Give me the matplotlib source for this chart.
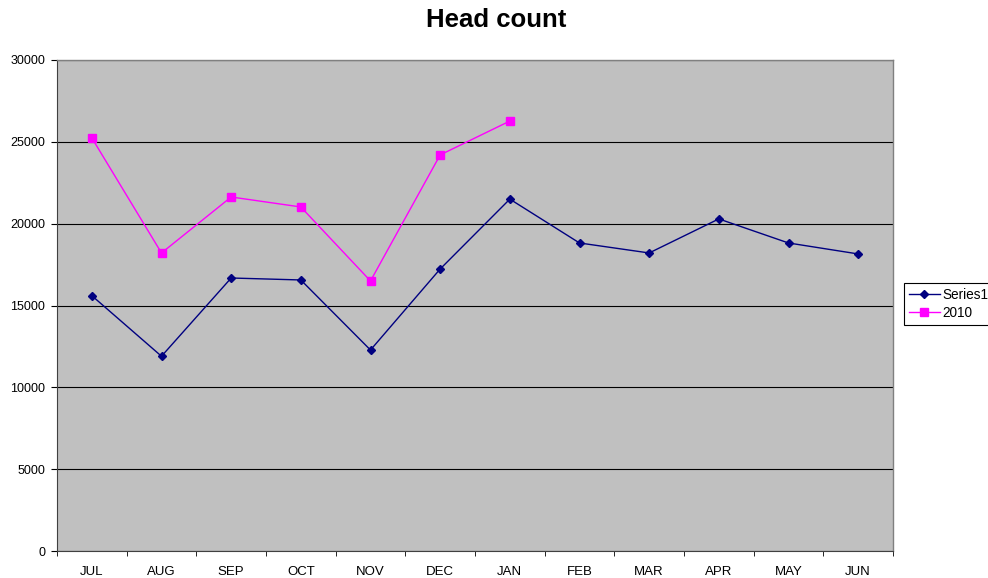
import matplotlib
matplotlib.use("Agg")
import matplotlib.pyplot as plt
import numpy as np

plt.rcParams['font.family'] = ['Liberation Sans', 'DejaVu Sans']

months = ["JUL", "AUG", "SEP", "OCT", "NOV", "DEC", "JAN", "FEB", "MAR", "APR", "MAY", "JUN"]
series1 = [15600, 11900, 16680, 16560, 12280, 17230, 21500, 18820, 18210, 20290, 18820, 18150]
series2010 = [25240, 18210, 21630, 21020, 16500, 24200, 26270]
yticks = [0, 5000, 10000, 15000, 20000, 25000, 30000]

fig = plt.figure(figsize=(9.88, 5.78), dpi=100)
ax = fig.add_axes([57/988, 27/578, (893-57)/988, (551-60)/578])
ax.set_facecolor('#C0C0C0')

x = np.arange(len(months))
ax.plot(x, series1, color='#000080', marker='D', markersize=4.5, linewidth=1, label='Series1')
ax.plot(np.arange(len(series2010)), series2010, color='#FF00FF', marker='s', markersize=6, linewidth=1, label='2010')

ax.set_xlim(-0.5, len(months) - 0.5)
ax.set_ylim(0, 30000)
ax.set_yticks(yticks)
ax.set_yticklabels([str(v) for v in yticks], fontsize=9)
ax.yaxis.grid(True, color='black', linewidth=0.8)
ax.set_axisbelow(True)

ax.set_xticks(x)
ax.set_xticklabels(months, fontsize=9.5)
ax.tick_params(axis='x', length=0, pad=11)
ax.set_xticks(np.arange(len(months) + 1) - 0.5, minor=True)
ax.tick_params(axis='x', which='minor', length=3.5, direction='out', color='black')
ax.tick_params(axis='y', length=4.5, direction='out', color='black', pad=4)

for side in ['top', 'right']:
    ax.spines[side].set_color('#808080')
    ax.spines[side].set_linewidth(1)
ax.spines['left'].set_color('#404040')
ax.spines['bottom'].set_color('#404040')

fig.text(496/988, 1 - 20/578, 'Head count', fontsize=18.5, fontweight='bold', ha='center', va='center')

leg = ax.legend(loc='center left', bbox_to_anchor=(904/988, 1 - 304/578), bbox_transform=fig.transFigure,
                fontsize=9.8, frameon=True, fancybox=False, edgecolor='black', framealpha=1,
                handlelength=2.3, borderpad=0.35, labelspacing=0.3, handletextpad=0.2, borderaxespad=0)
leg.get_frame().set_linewidth(0.8)

fig.savefig('out.png', dpi=100)
